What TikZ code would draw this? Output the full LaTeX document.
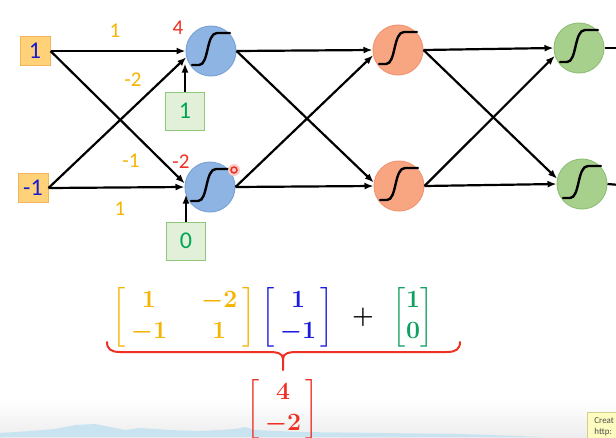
\documentclass[tikz,border=0pt]{standalone}
\usepackage{amsmath}
\usepackage{fontspec}
\setmainfont{Carlito}
\usetikzlibrary{arrows.meta}
\definecolor{wcol}{HTML}{F5B400}
\definecolor{rcol}{HTML}{EE3124}
\definecolor{incol}{HTML}{1A1AD0}
\definecolor{gtxt}{HTML}{00A651}
\definecolor{inboxfill}{HTML}{FFD27A}
\definecolor{inboxdraw}{HTML}{F2B45A}
\definecolor{biasfill}{HTML}{E2F0D9}
\definecolor{biasdraw}{HTML}{8FC87A}
\definecolor{bluefill}{HTML}{8EB4E3}
\definecolor{bluedraw}{HTML}{7AA3D6}
\definecolor{orfill}{HTML}{F8A682}
\definecolor{ordraw}{HTML}{F29572}
\definecolor{grfill}{HTML}{A8D08D}
\definecolor{grdraw}{HTML}{90C075}
\definecolor{mgreen}{HTML}{10A060}
\definecolor{mblue}{HTML}{1A1AE0}
\definecolor{skyblue}{HTML}{C9E4F0}
\begin{document}
\begin{tikzpicture}[x=1pt,y=-1pt,
  inbox/.style={draw=inboxdraw,fill=inboxfill,line width=1pt,minimum width=30pt,minimum height=29pt,inner sep=0pt,font=\fontsize{24}{24}\selectfont,text=incol},
  biasbox/.style={draw=biasdraw,fill=biasfill,line width=1pt,minimum width=39pt,minimum height=38pt,inner sep=0pt,font=\fontsize{24}{24}\selectfont,text=gtxt},
  neuron/.style={circle,minimum size=50pt,inner sep=0pt,line width=1pt},
  bneuron/.style={neuron,fill=bluefill,draw=bluedraw},
  oneuron/.style={neuron,fill=orfill,draw=ordraw},
  gneuron/.style={neuron,fill=grfill,draw=grdraw},
  arr/.style={line width=2.2pt,-{Latex[length=9pt,width=7pt]}},
  plainline/.style={line width=2.2pt},
  wlab/.style={font=\fontsize{21}{21}\selectfont,text=wcol},
  rlab/.style={font=\fontsize{21}{21}\selectfont,text=rcol},
  mat/.style={font=\fontsize{26}{31}\selectfont\boldmath,inner sep=0pt},
  sigm/.pic={\draw[line width=2.4pt,line cap=round] (-19,14) -- (-12,14) .. controls (-2,14) and (-5,-18) .. (6,-18) -- (19,-18);}
]
\useasboundingbox (0,0) rectangle (616,437);
\clip (0,0) rectangle (616,437);
% background
\shade[top color=white,bottom color=black!7] (0,400) rectangle (616,437);
\fill[skyblue] (0,437) -- (0,433) -- (30,431) -- (55,429) -- (75,425) -- (95,424) -- (110,427) -- (125,430) -- (140,428) -- (170,430) -- (200,431) -- (235,429) -- (245,427) -- (255,430) -- (300,432) -- (380,433) -- (460,434) -- (520,436) -- (540,437) -- cycle;

% inputs
\node[inbox] (x1) at (35,51) {1};
\node[inbox] (x2) at (33,188) {-1};
% layer 1
\node[bneuron] (n1) at (211,51) {};
\node[bneuron] (n2) at (210,187) {};
\node[biasbox] (b1) at (185,111) {1};
\node[biasbox] (b2) at (186,241) {0};
% layer 2
\node[oneuron] (o1) at (398,50) {};
\node[oneuron] (o2) at (399,186) {};
% layer 3
\node[gneuron] (g1) at (579,48) {};
\node[gneuron] (g2) at (582,184) {};
\coordinate (e1) at (620,48);
\coordinate (e2) at (620,185);

\foreach \n in {n1,n2,o1,o2,g1,g2} \pic at (\n) {sigm};

% connectors layer 1
\draw[arr] (x1.east) -- (n1.180);
\draw[arr] (x1.east) -- (n2.172);
\draw[arr] (x2.east) -- (n1.194);
\draw[arr] (x2.east) -- (n2.180);
\draw[arr] (b1.north) -- ++(0,-28);
\draw[arr] (b2.north) -- ++(0,-27);
% layer 2
\draw[arr] (n1.east) -- (o1.west);
\draw[arr] (n1.east) -- (o2.172);
\draw[arr] (n2.east) -- (o1.192);
\draw[arr] (n2.east) -- (o2.west);
% layer 3
\draw[arr] (o1.east) -- (g1.west);
\draw[arr] (o1.east) -- (g2.168);
\draw[arr] (o2.east) -- (g1.198);
\draw[arr] (o2.east) -- (g2.west);
\draw[plainline] (g1.east) -- (e1);
\draw[plainline] (g2.east) -- (e2);

% labels
\node[wlab] at (115,31) {1};
\node[wlab] at (133,80) {-2};
\node[wlab] at (131,161) {-1};
\node[wlab] at (120,209) {1};
\node[rlab] at (178,28) {4};
\node[rlab] at (181,162) {-2};

% cursor dot
\fill[rcol!25] (234,170) circle (6);
\draw[rcol,line width=1.5pt] (234,170) circle (3);

% equation
\node[mat,text=wcol] (W) at (184,317) {$\left[\begin{array}{@{\,}c@{\hspace{34pt}}c@{\,}}1&-2\\-1&1\end{array}\right]$};
\node[mat,text=mblue] (X) at (298,317) {$\left[\begin{array}{@{\,}c@{\,}}1\\-1\end{array}\right]$};
\node[mat] (P) at (363,317) {$+$};
\node[mat,text=mgreen] (B) at (413,317) {$\left[\begin{array}{@{}c@{}}1\\0\end{array}\right]$};
\node[mat,text=rcol] (R) at (283,409) {$\left[\begin{array}{@{\,}c@{\,}}4\\-2\end{array}\right]$};

% brace
\draw[rcol,line width=2pt,line cap=round]
  (107,342) .. controls (107,349) and (111,352) .. (120,352) -- (268,352)
  .. controls (277,352) and (283,353) .. (283,359) -- (283,370);
\draw[rcol,line width=2pt,line cap=round]
  (460,342) .. controls (460,349) and (456,352) .. (447,352) -- (298,352)
  .. controls (289,352) and (283,353) .. (283,359);

% watermark box
\node[draw=yellow!60!black!50,fill=yellow!25,anchor=north west,inner sep=2pt,align=left,font=\fontsize{9}{11}\selectfont,text=black!70,minimum width=34pt,minimum height=30pt] (wm) at (587,412) {Creat\\http:};
\end{tikzpicture}
\end{document}
